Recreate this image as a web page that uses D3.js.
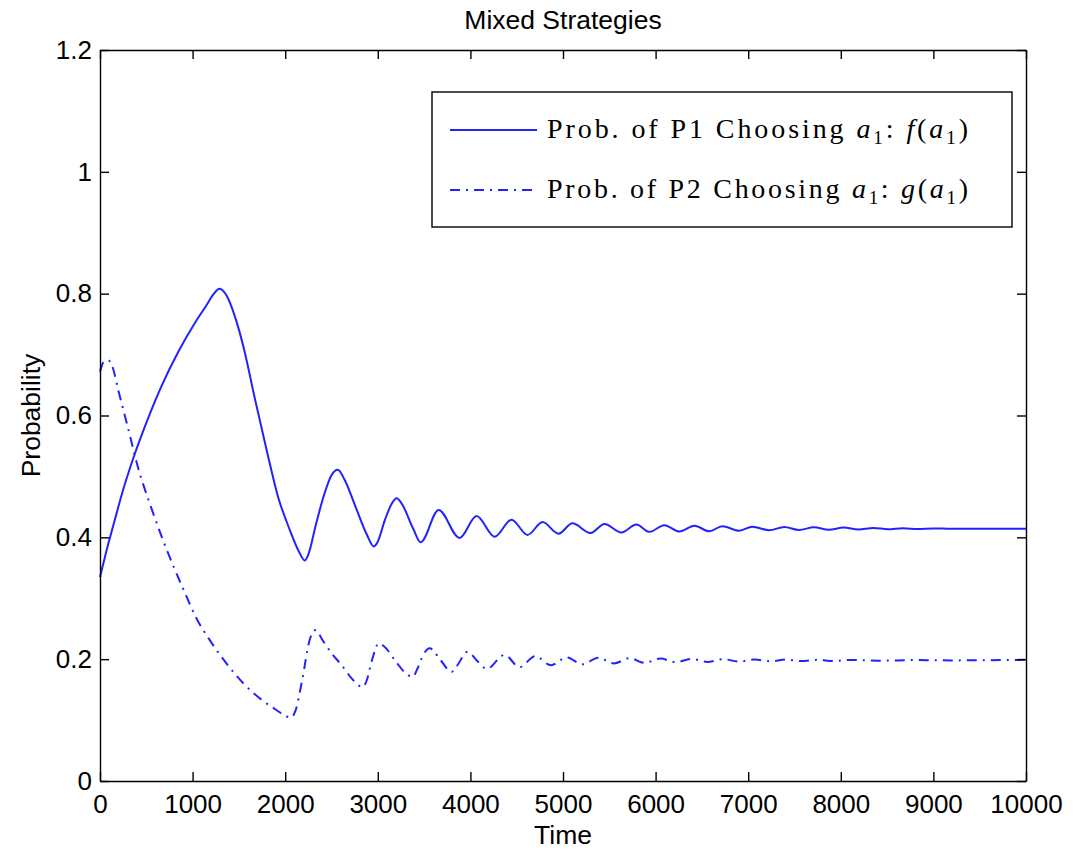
<!DOCTYPE html>
<html>
<head>
<meta charset="utf-8">
<script src="https://cdn.jsdelivr.net/npm/d3@7/dist/d3.min.js"></script>
<style>
  html, body { margin: 0; padding: 0; background: #fff; }
  svg { display: block; }
  text { font-family: "Liberation Sans", Arial, Helvetica, sans-serif; fill: #000; }
</style>
</head>
<body>
<svg id="chart" width="1086" height="849"></svg>
<script>
// ---- data ----
const fTime = [0,60,150,250,378,500,669,850,1025,1150,1230,1290,1370,1440,1500,1560,1672,1800,1920,2050,2150,2211,2250,2330,2420,2500,2568,2640,2760,2880,2956,2990,3080,3150,3204,3260,3380,3463,3657,3883,4067,4261,4444,4617,4779,4951,5102,5297,5448,5631,5793,5933,6095,6257,6419,6580,6721,6904,7044,7228,7389,7550,7710,7870,8030,8190,8350,8510,8670,8830,9000,9200,9500,10000];
const fValue = [0.335,0.372,0.423,0.478,0.538,0.588,0.65,0.706,0.752,0.781,0.800,0.808,0.796,0.770,0.741,0.706,0.628,0.543,0.468,0.412,0.376,0.362,0.372,0.42,0.47,0.502,0.511,0.495,0.45,0.405,0.385,0.39,0.43,0.455,0.464,0.455,0.415,0.392,0.445,0.399,0.435,0.401,0.429,0.404,0.425,0.406,0.423,0.407,0.422,0.408,0.421,0.409,0.420,0.4095,0.419,0.410,0.4182,0.4108,0.4175,0.4115,0.417,0.412,0.4165,0.4125,0.416,0.413,0.4155,0.4133,0.415,0.4135,0.4147,0.414,0.4142,0.4142];

const gTime = [0,40,86,130,200,300,410,550,669,800,917,1025,1200,1381,1550,1748,1900,1990,2060,2110,2180,2265,2330,2400,2500,2610,2720,2800,2837,2880,2940,3010,3060,3200,3300,3376,3430,3490,3560,3680,3797,3850,3970,4080,4175,4369,4530,4700,4870,5040,5210,5380,5550,5720,5880,6050,6220,6390,6560,6730,6900,7070,7240,7410,7580,7750,7920,8100,8400,8800,9200,10000];
const gValue = [0.672,0.688,0.691,0.682,0.64,0.581,0.515,0.45,0.40,0.35,0.309,0.272,0.228,0.19,0.16,0.133,0.117,0.108,0.104,0.115,0.163,0.232,0.248,0.232,0.21,0.19,0.168,0.156,0.154,0.165,0.2,0.226,0.222,0.195,0.177,0.171,0.185,0.207,0.218,0.198,0.179,0.188,0.212,0.196,0.184,0.207,0.187,0.205,0.19,0.203,0.1915,0.2025,0.193,0.2015,0.194,0.201,0.195,0.2005,0.1955,0.2,0.196,0.1995,0.1965,0.1993,0.1968,0.199,0.197,0.1988,0.1975,0.1985,0.198,0.199];

const xTicks = [0,1000,2000,3000,4000,5000,6000,7000,8000,9000,10000];
const xTickLabels = ["0","1000","2000","3000","4000","5000","6000","7000","8000","9000","10000"];
const yTicks = [0,0.2,0.4,0.6,0.8,1,1.2];
const yTickLabels = ["0","0.2","0.4","0.6","0.8","1","1.2"];

const titleText = "Mixed Strategies";
const xLabelText = "Time";
const yLabelText = "Probability";

// ---- layout ----
const L = 100, R = 1026, T = 50, B = 781;
const svg = d3.select("#chart");
const x = d3.scaleLinear().domain([0, 10000]).range([L, R]);
const y = d3.scaleLinear().domain([0, 1.2]).range([B, T]);
const blue = "#2222ff";

// lines
const fData = fTime.map((t, i) => [t, fValue[i]]);
const gData = gTime.map((t, i) => [t, gValue[i]]);
const line = d3.line().x(d => x(d[0])).y(d => y(d[1])).curve(d3.curveMonotoneX);

svg.append("path").datum(fData).attr("d", line)
  .attr("fill", "none").attr("stroke", blue).attr("stroke-width", 2);
svg.append("path").datum(gData).attr("d", line)
  .attr("fill", "none").attr("stroke", blue).attr("stroke-width", 2)
  .attr("stroke-dasharray", "10,6,2,6");

// axes (inward ticks, box)
function styleAxis(g) {
  g.selectAll(".domain").attr("stroke", "#000").attr("stroke-width", 1.4);
  g.selectAll(".tick line").attr("stroke", "#000").attr("stroke-width", 1.4);
  g.selectAll(".tick text").style("font-size", "26px").attr("fill", "#000")
    .style("font-family", '"Liberation Sans", Arial, sans-serif');
}
const xa = svg.append("g").attr("transform", `translate(0,${B})`)
  .call(d3.axisBottom(x).tickValues(xTicks).tickFormat((d, i) => xTickLabels[i])
    .tickSizeInner(-9).tickSizeOuter(0).tickPadding(14));
styleAxis(xa);
const xt = svg.append("g").attr("transform", `translate(0,${T})`)
  .call(d3.axisTop(x).tickValues(xTicks).tickFormat("").tickSizeInner(-9).tickSizeOuter(0));
styleAxis(xt);
const ya = svg.append("g").attr("transform", `translate(${L},0)`)
  .call(d3.axisLeft(y).tickValues(yTicks).tickFormat((d, i) => yTickLabels[i])
    .tickSizeInner(-9).tickSizeOuter(0).tickPadding(8));
styleAxis(ya);
const yr = svg.append("g").attr("transform", `translate(${R},0)`)
  .call(d3.axisRight(y).tickValues(yTicks).tickFormat("").tickSizeInner(-9).tickSizeOuter(0));
styleAxis(yr);

// titles
svg.append("text").attr("x", (L + R) / 2).attr("y", 29).attr("text-anchor", "middle")
  .style("font-size", "26.5px").text(titleText);
svg.append("text").attr("x", (L + R) / 2).attr("y", 844).attr("text-anchor", "middle")
  .style("font-size", "26.5px").text(xLabelText);
svg.append("text").attr("transform", `translate(40,${(T + B) / 2}) rotate(-90)`)
  .attr("text-anchor", "middle").style("font-size", "26.5px").text(yLabelText);

// legend
const lg = svg.append("g");
lg.append("rect").attr("x", 432).attr("y", 92).attr("width", 580).attr("height", 135)
  .attr("fill", "#fff").attr("stroke", "#000").attr("stroke-width", 1.4);
const legendItems = [
  { fn: "f", dash: null, yy: 130 },
  { fn: "g", dash: "10,6,2,6", yy: 190 }
];
legendItems.forEach((it, i) => {
  const ln = lg.append("line").attr("x1", 450).attr("x2", 537).attr("y1", it.yy).attr("y2", it.yy)
    .attr("stroke", blue).attr("stroke-width", 2);
  if (it.dash) ln.attr("stroke-dasharray", it.dash);
  const t = lg.append("text").attr("x", 547).attr("y", it.yy + 8)
    .style("font-family", '"Liberation Serif", "DejaVu Serif", serif').style("font-size", "28px")
    .attr("textLength", 421).attr("lengthAdjust", "spacing");
  t.append("tspan").text(`Prob. of P${i + 1} Choosing `);
  t.append("tspan").style("font-style", "italic").text("a");
  t.append("tspan").attr("dy", 6).style("font-size", "19px").text("1");
  t.append("tspan").attr("dy", -6).text(":  ");
  t.append("tspan").style("font-style", "italic").text(it.fn);
  t.append("tspan").text("(");
  t.append("tspan").style("font-style", "italic").text("a");
  t.append("tspan").attr("dy", 6).style("font-size", "19px").text("1");
  t.append("tspan").attr("dy", -6).text(")");
});
</script>
</body>
</html>
